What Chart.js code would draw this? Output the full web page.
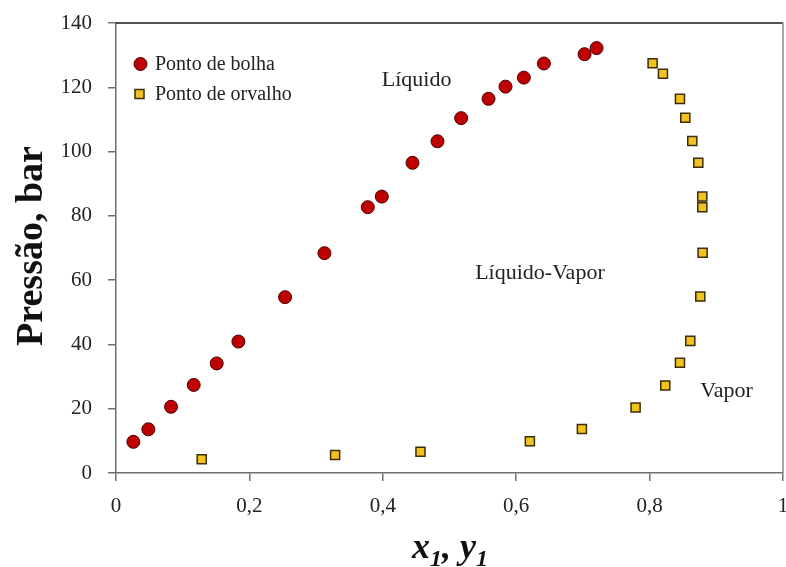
<!DOCTYPE html>
<html lang="pt-BR">
<head>
    <meta charset="UTF-8">
    <title>Diagrama P-x-y</title>
    <script src="https://cdn.jsdelivr.net/npm/chart.js"></script>
    <style>
        body {
            margin: 0;
            padding: 0;
            background-color: #fff;
        }
        .chart-container {
            position: relative;
            width: 786px;
            height: 567px;
        }
    </style>
</head>
<body>
    <div class="chart-container">
        <canvas id="pxyChart" width="786" height="567"></canvas>
    </div>

    <script>
        // Ponto de bolha: x1 e pressão (bar)
        const bolhaX = [0.026, 0.0485, 0.0825, 0.1165, 0.151, 0.1835, 0.2535, 0.3125, 0.3775, 0.3985,
                        0.4445, 0.482, 0.5175, 0.5585, 0.584, 0.6115, 0.6415, 0.7025, 0.7205];
        const bolhaP = [9.7, 13.6, 20.6, 27.4, 34.1, 40.9, 54.7, 68.4, 82.7, 86.0,
                        96.5, 103.2, 110.4, 116.4, 120.2, 123.0, 127.4, 130.3, 132.2];

        // Ponto de orvalho: y1 e pressão (bar)
        const orvalhoY = [0.1285, 0.3285, 0.4565, 0.6205, 0.6985, 0.779, 0.8235, 0.8455, 0.861, 0.876,
                          0.8795, 0.879, 0.879, 0.873, 0.864, 0.8535, 0.8455, 0.82, 0.8045];
        const orvalhoP = [4.3, 5.6, 6.6, 9.9, 13.7, 20.4, 27.2, 34.3, 41.1, 54.9,
                          68.5, 82.7, 86.0, 96.5, 103.3, 110.5, 116.4, 124.2, 127.5];

        const xTicks = [0, 0.2, 0.4, 0.6, 0.8, 1];
        const yTicks = [0, 20, 40, 60, 80, 100, 120, 140];

        const regioes = ['Líquido', 'Líquido-Vapor', 'Vapor'];

        const serif = "'Liberation Serif', 'Times New Roman', serif";

        // posição (em coordenadas do gráfico) dos rótulos das regiões
        const regioesPos = [
            { x: 0.3985, y: 122.3 },
            { x: 0.5385, y: 62.2 },
            { x: 0.876, y: 25.5 }
        ];

        const bolhaStyle = { bg: '#bf0000', border: '#4a0000' };
        const orvalhoStyle = { bg: '#f4c21f', border: '#3b2e08' };

        // desenha moldura, legenda, títulos dos eixos e rótulos
        const extras = {
            id: 'extras',
            afterDraw(chart) {
                const ctx = chart.ctx;
                const a = chart.chartArea;
                const sx = chart.scales.x;
                const sy = chart.scales.y;
                ctx.save();

                // moldura superior e direita
                ctx.lineWidth = 1.5;
                ctx.strokeStyle = '#1a1a1a';
                ctx.beginPath();
                ctx.moveTo(a.left, a.top);
                ctx.lineTo(a.right, a.top);
                ctx.stroke();
                ctx.strokeStyle = '#8a8a8a';
                ctx.beginPath();
                ctx.moveTo(a.right, a.top);
                ctx.lineTo(a.right, a.bottom);
                ctx.stroke();

                // legenda
                ctx.textBaseline = 'middle';
                ctx.textAlign = 'left';
                ctx.lineWidth = 1;
                ctx.fillStyle = bolhaStyle.bg;
                ctx.strokeStyle = bolhaStyle.border;
                ctx.beginPath();
                ctx.arc(140.5, 64, 6.5, 0, Math.PI * 2);
                ctx.fill();
                ctx.stroke();
                ctx.fillStyle = orvalhoStyle.bg;
                ctx.strokeStyle = orvalhoStyle.border;
                ctx.lineWidth = 1.5;
                ctx.fillRect(135, 89.5, 9, 9);
                ctx.strokeRect(135, 89.5, 9, 9);
                ctx.fillStyle = '#222';
                ctx.font = '20px ' + serif;
                ctx.fillText(chart.data.datasets[0].label, 155, 65);
                ctx.fillText(chart.data.datasets[1].label, 155, 95);

                // rótulos das regiões
                ctx.font = '22px ' + serif;
                regioes.forEach((txt, i) => {
                    ctx.fillText(txt, sx.getPixelForValue(regioesPos[i].x), sy.getPixelForValue(regioesPos[i].y));
                });

                // título do eixo y
                ctx.save();
                ctx.translate(42, 246);
                ctx.rotate(-Math.PI / 2);
                ctx.font = 'bold 38px ' + serif;
                ctx.textAlign = 'center';
                ctx.textBaseline = 'alphabetic';
                ctx.fillStyle = '#111';
                ctx.fillText('Pressão, bar', 0, 0);
                ctx.restore();

                // título do eixo x: x1, y1 com subscrito
                const parts = [['x', false], ['1', true], [', ', false], ['y', false], ['1', true]];
                const big = 'italic bold 36px ' + serif;
                const small = 'italic bold 24px ' + serif;
                let total = 0;
                parts.forEach(p => {
                    ctx.font = p[1] ? small : big;
                    total += ctx.measureText(p[0]).width;
                });
                let px = 450 - total / 2;
                ctx.textAlign = 'left';
                ctx.textBaseline = 'alphabetic';
                ctx.fillStyle = '#111';
                parts.forEach(p => {
                    ctx.font = p[1] ? small : big;
                    ctx.fillText(p[0], px, p[1] ? 566 : 558);
                    px += ctx.measureText(p[0]).width;
                });

                ctx.restore();
            }
        };

        const ctx = document.getElementById('pxyChart').getContext('2d');
        new Chart(ctx, {
            type: 'scatter',
            data: {
                datasets: [{
                    label: 'Ponto de bolha',
                    data: bolhaX.map((v, i) => ({ x: v, y: bolhaP[i] })),
                    pointStyle: 'circle',
                    pointRadius: 6.5,
                    backgroundColor: bolhaStyle.bg,
                    borderColor: bolhaStyle.border,
                    borderWidth: 1
                }, {
                    label: 'Ponto de orvalho',
                    data: orvalhoY.map((v, i) => ({ x: v, y: orvalhoP[i] })),
                    pointStyle: 'rect',
                    pointRadius: 6.4,
                    backgroundColor: orvalhoStyle.bg,
                    borderColor: orvalhoStyle.border,
                    borderWidth: 1.5
                }]
            },
            options: {
                responsive: false,
                animation: false,
                layout: {
                    autoPadding: false,
                    padding: { top: 23, right: 3, left: 0, bottom: 0 }
                },
                plugins: {
                    legend: { display: false },
                    tooltip: { enabled: false }
                },
                scales: {
                    x: {
                        type: 'linear',
                        min: 0,
                        max: 1,
                        afterBuildTicks: scale => { scale.ticks = xTicks.map(v => ({ value: v })); },
                        afterFit: scale => {
                            scale.height = 94;
                            scale.paddingLeft = 0;
                            scale.paddingRight = 0;
                        },
                        ticks: {
                            callback: v => String(v).replace('.', ','),
                            font: { family: serif, size: 21 },
                            color: '#222',
                            padding: 13,
                            maxRotation: 0
                        },
                        grid: { drawOnChartArea: false, tickLength: 8, color: '#6e6e6e', lineWidth: 1.5 },
                        border: { color: '#6e6e6e', width: 1.5 }
                    },
                    y: {
                        min: 0,
                        max: 140,
                        afterBuildTicks: scale => { scale.ticks = yTicks.map(v => ({ value: v })); },
                        afterFit: scale => {
                            scale.width = 116;
                            scale.paddingTop = 0;
                            scale.paddingBottom = 0;
                        },
                        ticks: {
                            font: { family: serif, size: 21 },
                            color: '#222',
                            padding: 16
                        },
                        grid: { drawOnChartArea: false, tickLength: 8, color: '#6e6e6e', lineWidth: 1.5 },
                        border: { color: '#6e6e6e', width: 1.5 }
                    }
                }
            },
            plugins: [extras]
        });
    </script>
</body>
</html>
